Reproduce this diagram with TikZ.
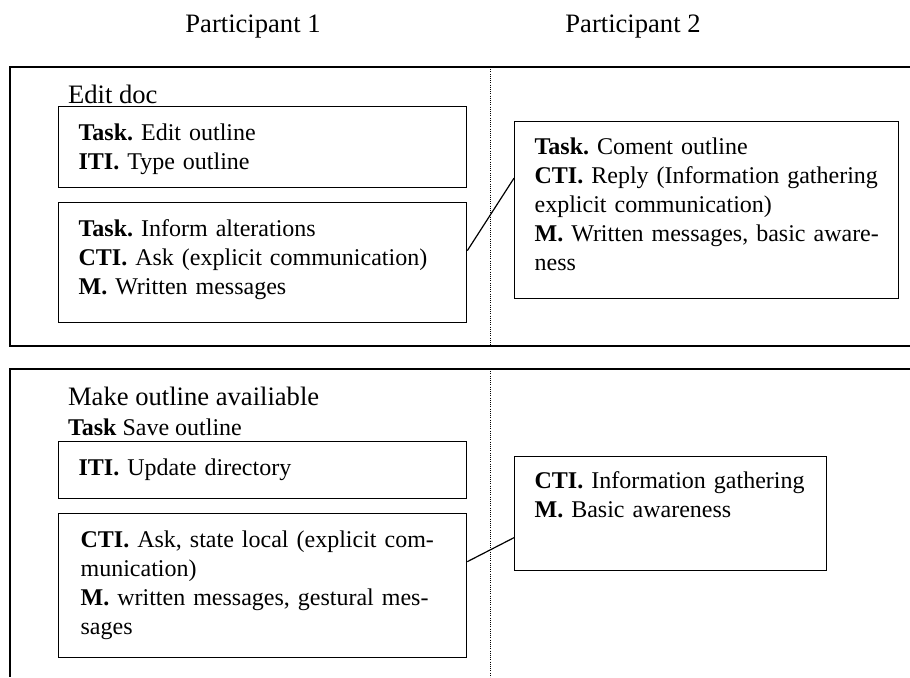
\documentclass[tikz,border=0pt]{standalone}
\usepackage{fontspec}
\setmainfont{Liberation Serif}
\frenchspacing
\newcommand{\jline}[1]{\makebox[\linewidth][s]{#1}}

\begin{document}
\begin{tikzpicture}[
  x=0.5pt, y=-0.5pt,
  font=\fontsize{12}{14.5}\selectfont,
  frame/.style={draw=black, line width=0.85pt},
  split/.style={draw=black, line width=0.5pt, dash pattern=on 0.5pt off 0.6pt},
  act/.style={draw=black, line width=0.65pt, anchor=north west, inner xsep=10pt,
              inner ysep=0pt, text height=17pt, align=left, text width=184pt},
  link/.style={draw=black, line width=0.6pt},
  head/.style={font=\fontsize{13.3}{16}\selectfont, anchor=base},
  ttl/.style={font=\fontsize{13.3}{16}\selectfont, anchor=base west},
]
\useasboundingbox (0,0) rectangle (910,677);

% ============ helper coordinates ============
\def\xa{58}   % left column of boxes
\def\xb{514}  % right column of boxes
\def\xs{490}  % participant split

% ============ header ============
\node[head] (p1) at (253,32) {Participant 1};
\node[head] (p2) at (633,32) {Participant 2};

% ===================== Frame 1: Edit doc =====================
\draw[frame] (910,67) -- (10,67) -- (10,346) -- (910,346);
\draw[split] (\xs,67) -- (\xs,346);
\node[ttl] (t1) at (61,103) {Edit doc};
\node[act, text depth=23.5pt] (edit) at (\xa,106)
  {\textbf{Task.} Edit outline\\ \textbf{ITI.} Type outline};
\node[act, text depth=43pt] (inform) at (\xa,202)
  {\textbf{Task.} Inform alterations\\ \textbf{CTI.} Ask (explicit communication)\\
   \textbf{M.} Written messages};
\node[act, text width=172pt, text height=16.5pt, text depth=72pt] (coment) at (\xb,121)
  {\textbf{Task.} Coment outline\\ \textbf{CTI.} Reply (Information gathering\\
   explicit communication)\\ \jline{\textbf{M.} Written messages, basic aware-}\\ ness};
\draw[link] ([yshift=6pt]inform.east) -- ([yshift=16pt]coment.west);

% ===================== Frame 2: Make outline availiable =====================
\draw[frame] (910,369) -- (10,369) -- (10,677);
\draw[split] (\xs,369) -- (\xs,677);
\node[ttl] (t2) at (61,405) {Make outline availiable};
\node[anchor=base west] (t3) at (61,435) {\textbf{Task} Save outline};
\node[act, text depth=11.5pt] (update) at (\xa,441)
  {\textbf{ITI.} Update directory};
\node[act, text width=182pt, minimum width=204pt, text depth=55pt] (ask) at (\xa,513)
  {\jline{\textbf{CTI.} Ask, state local (explicit com-}\\ munication)\\
   \jline{\textbf{M.} written messages, gestural mes-}\\ sages};
\node[act, text width=136pt, text height=16pt, text depth=41pt] (gather) at (\xb,456)
  {\textbf{CTI.} Information gathering\\ \textbf{M.} Basic awareness};
\draw[link] ([yshift=12pt]ask.east) -- ([yshift=-12pt]gather.west);

\end{tikzpicture}
\end{document}
